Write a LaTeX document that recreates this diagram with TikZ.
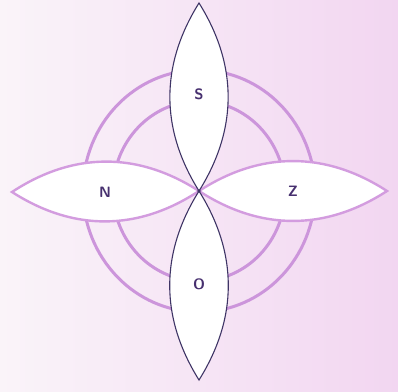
\documentclass[tikz,border=0pt]{standalone}
\usepackage{xcolor}
\definecolor{bgL}{HTML}{FAF4F9}
\definecolor{bgR}{HTML}{F2D6F1}
\definecolor{ringc}{HTML}{CC95DB}
\definecolor{vline}{HTML}{3F3566}
\definecolor{hline}{HTML}{D39CDF}
\definecolor{letc}{HTML}{47306F}
\tikzset{
  ring/.style={draw=ringc, line width=3pt},
  vlens/.style={draw=vline, line width=1.1pt, fill=white},
  hlens/.style={draw=hline, line width=2.4pt, fill=white},
  lab/.style={font=\sffamily\bfseries\fontsize{15}{15}\selectfont, text=letc, inner sep=0pt}
}
\begin{document}
\begin{tikzpicture}[x=1pt,y=-1pt]
\useasboundingbox (0,0) rectangle (398,391);
\shade[left color=bgL, right color=bgR] (0,0) rectangle (398,391);
\coordinate (c) at (199,191);
\coordinate (tT) at (199,3);
\coordinate (tB) at (199,380);
\coordinate (tL) at (12,192);
\coordinate (tR) at (387,191);
\draw[ring] (c) circle[x radius=116pt, y radius=121pt];
\draw[ring] (c) circle[x radius=86pt, y radius=90pt];
% horizontal lenses
\draw[hlens] (c) to[bend left=33] (tL) to[bend left=33] (c);
\draw[hlens] (c) to[bend left=33] (tR) to[bend left=33] (c);
% vertical lenses
\draw[vlens] (c) to[bend left=32] (tT) to[bend left=32] (c);
\draw[vlens] (c) to[bend left=32] (tB) to[bend left=32] (c);
\fill[vline] (c) circle[radius=1.8pt];
\node[lab] (S) at (199,94) {S};
\node[lab] (N) at (105,192) {N};
\node[lab] (Z) at (293,191) {Z};
\node[lab] (O) at (199,284) {O};
\end{tikzpicture}
\end{document}
